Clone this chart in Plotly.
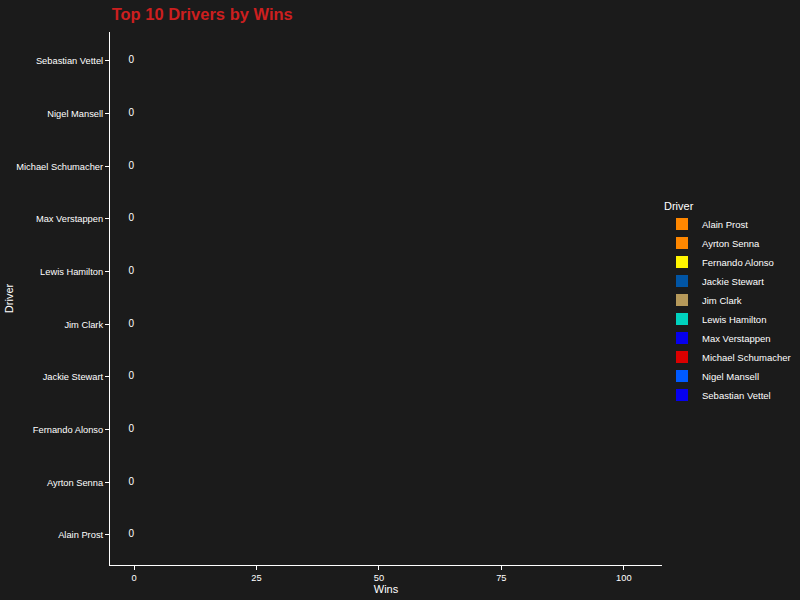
import plotly.graph_objects as go

drivers = ["Alain Prost", "Ayrton Senna", "Fernando Alonso", "Jackie Stewart", "Jim Clark",
           "Lewis Hamilton", "Max Verstappen", "Michael Schumacher", "Nigel Mansell", "Sebastian Vettel"]
wins = [0, 0, 0, 0, 0, 0, 0, 0, 0, 0]
colors = ["#FF8700", "#FF8700", "#FFF500", "#0155A5", "#B6995A",
          "#00D2BE", "#0600EF", "#DC0000", "#005AFF", "#0600EF"]
x_ticks = [0, 25, 50, 75, 100]

bg = "#1b1b1b"
fig = go.Figure()
for d, w, c in zip(drivers, wins, colors):
    fig.add_trace(go.Bar(x=[w], y=[d], orientation="h", name=d,
                         marker=dict(color=c, line=dict(width=0)), showlegend=True))

fig.add_trace(go.Scatter(x=wins, y=drivers, mode="text", text=[str(w) for w in wins],
                         textposition="middle left", textfont=dict(color="white", size=10),
                         showlegend=False, hoverinfo="skip", cliponaxis=False))

fig.update_layout(
    width=800, height=600,
    paper_bgcolor=bg, plot_bgcolor=bg,
    font=dict(family="Liberation Sans, Arial, sans-serif", color="white", size=10),
    margin=dict(l=110, r=138, t=32, b=35, autoexpand=False),
    title=dict(text="<b>Top 10 Drivers by Wins</b>", x=0.003, xref="paper", xanchor="left",
               y=0.977, yanchor="middle", font=dict(size=16.5, color="#CC1F1F")),
    legend=dict(title=dict(text="Driver", font=dict(size=11, color="white")),
                xref="container", x=0.8275, xanchor="left", y=0.492, yanchor="middle",
                font=dict(size=9.5, color="white"), bgcolor=bg, tracegroupgap=0),
    bargap=0.1,
)
fig.update_xaxes(range=[-4.9, 107.8], tickvals=x_ticks, showgrid=False, zeroline=False,
                 showline=True, linecolor="white", linewidth=1, ticks="outside",
                 tickcolor="white", ticklen=4, tickfont=dict(size=9.3, color="white"),
                 automargin=False,
                 title=dict(text="Wins", font=dict(size=11, color="white"), standoff=2))
fig.update_yaxes(type="category", categoryorder="array", categoryarray=drivers,
                 range=[-0.57, 9.55], showgrid=False, zeroline=False,
                 showline=True, linecolor="white", linewidth=1, ticks="outside",
                 tickcolor="white", ticklen=4, tickfont=dict(size=9.3, color="white"),
                 automargin=False,
                 title=dict(text="Driver", font=dict(size=11, color="white"), standoff=0))

fig.write_html("out.html", config={"displayModeBar": False},
               post_script="document.body.style.margin='0';document.body.style.background='#1b1b1b';")
